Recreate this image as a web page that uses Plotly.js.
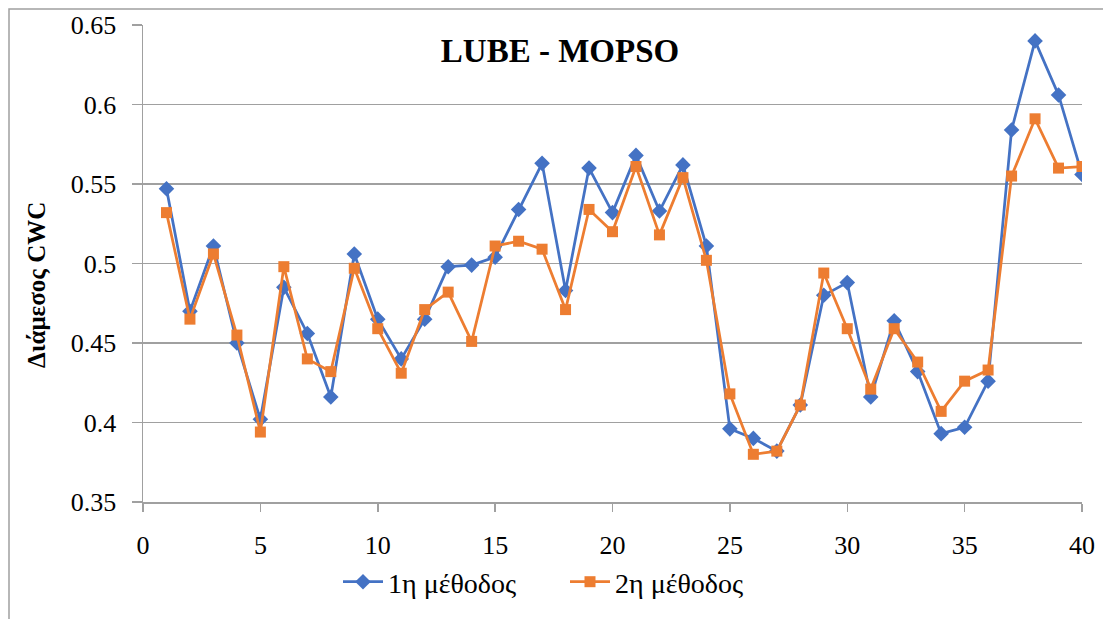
<!DOCTYPE html>
<html>
<head>
<meta charset="utf-8">
<script src="https://cdn.plot.ly/plotly-3.0.1.min.js"></script>
<style>html,body{margin:0;padding:0;background:#fff;}#chart{width:1103px;height:619px;}</style>
</head>
<body>
<div id="chart"></div>
<script>
const xValues = [1,2,3,4,5,6,7,8,9,10,11,12,13,14,15,16,17,18,19,20,21,22,23,24,25,26,27,28,29,30,31,32,33,34,35,36,37,38,39,40];
const method1 = [0.547,0.470,0.511,0.450,0.402,0.485,0.456,0.416,0.506,0.465,0.440,0.465,0.498,0.499,0.504,0.534,0.563,0.483,0.560,0.532,0.568,0.533,0.562,0.511,0.396,0.390,0.382,0.411,0.480,0.488,0.416,0.464,0.432,0.393,0.397,0.426,0.584,0.640,0.606,0.556];
const method2 = [0.532,0.465,0.506,0.455,0.394,0.498,0.440,0.432,0.497,0.459,0.431,0.471,0.482,0.451,0.511,0.514,0.509,0.471,0.534,0.520,0.561,0.518,0.554,0.502,0.418,0.380,0.382,0.411,0.494,0.459,0.421,0.459,0.438,0.407,0.426,0.433,0.555,0.591,0.560,0.561];
const seriesNames = ["1η μέθοδος", "2η μέθοδος"];
const chartTitle = "LUBE - MOPSO";
const yTitle = "Διάμεσος CWC";
const xTicks = [0,5,10,15,20,25,30,35,40];
const yTicks = [0.35,0.4,0.45,0.5,0.55,0.6,0.65];
const yTickText = ["0.35","0.4","0.45","0.5","0.55","0.6","0.65"];

const W = 1103, H = 619;
const L = 143, R = 1082, T = 25, B = 502;
const px = v => (v - L) / (R - L);
const py = v => (B - v) / (B - T);
const serif = "Liberation Serif";

const traces = [
  {x: xValues, y: method1, name: seriesNames[0], type: "scatter", mode: "lines+markers",
   line: {color: "#4472C4", width: 2.75}, marker: {symbol: "diamond", size: 12, color: "#4472C4"}},
  {x: xValues, y: method2, name: seriesNames[1], type: "scatter", mode: "lines+markers",
   line: {color: "#ED7D31", width: 2.75}, marker: {symbol: "square", size: 11, color: "#ED7D31"}}
];

const layout = {
  width: W, height: H,
  font: {family: serif, color: "#000"},
  margin: {l: L, r: W - R, t: T, b: H - B, pad: 0},
  paper_bgcolor: "#fff", plot_bgcolor: "#fff",
  showlegend: true,
  title: {text: "<b>" + chartTitle + "</b>", xref: "container", yref: "container",
          x: 560 / W, y: 1 - 50 / H, xanchor: "center", yanchor: "middle",
          font: {family: serif, size: 33, color: "#000"}},
  xaxis: {range: [0, 40], tickvals: xTicks, ticks: "outside", ticklen: 8,
          tickcolor: "#a0a0a0", tickwidth: 1.5, showline: true, linecolor: "#a0a0a0", linewidth: 1.5,
          showgrid: false, zeroline: false, ticklabelstandoff: 11,
          tickfont: {family: serif, size: 26, color: "#000"}},
  yaxis: {range: [0.35, 0.65], tickvals: yTicks, ticktext: yTickText,
          ticks: "outside", ticklen: 10, tickcolor: "#a0a0a0", tickwidth: 1.5,
          showline: true, linecolor: "#a0a0a0", linewidth: 1.5,
          showgrid: true, gridcolor: "#a0a0a0", gridwidth: 1.5, zeroline: false,
          ticklabelstandoff: 10, tickfont: {family: serif, size: 26, color: "#000"}},
  legend: {orientation: "h", x: px(565), y: py(582), xanchor: "center", yanchor: "middle",
           font: {family: serif, size: 28, color: "#000"}, bgcolor: "rgba(0,0,0,0)", itemwidth: 40,
           entrywidth: 172},
  annotations: [
    {text: "<b>" + yTitle + "</b>", xref: "paper", yref: "paper", x: px(36), y: py(285),
     textangle: -90, showarrow: false, xanchor: "center", yanchor: "middle",
     font: {family: serif, size: 25, color: "#000"}}
  ],
  shapes: [
    {type: "rect", xref: "paper", yref: "paper", x0: px(9), x1: px(1120), y0: py(9), y1: py(640),
     line: {color: "#a0a0a0", width: 1.5}, fillcolor: "rgba(0,0,0,0)", layer: "below"}
  ]
};

Plotly.newPlot("chart", traces, layout, {displayModeBar: false, staticPlot: true});
</script>
</body>
</html>
